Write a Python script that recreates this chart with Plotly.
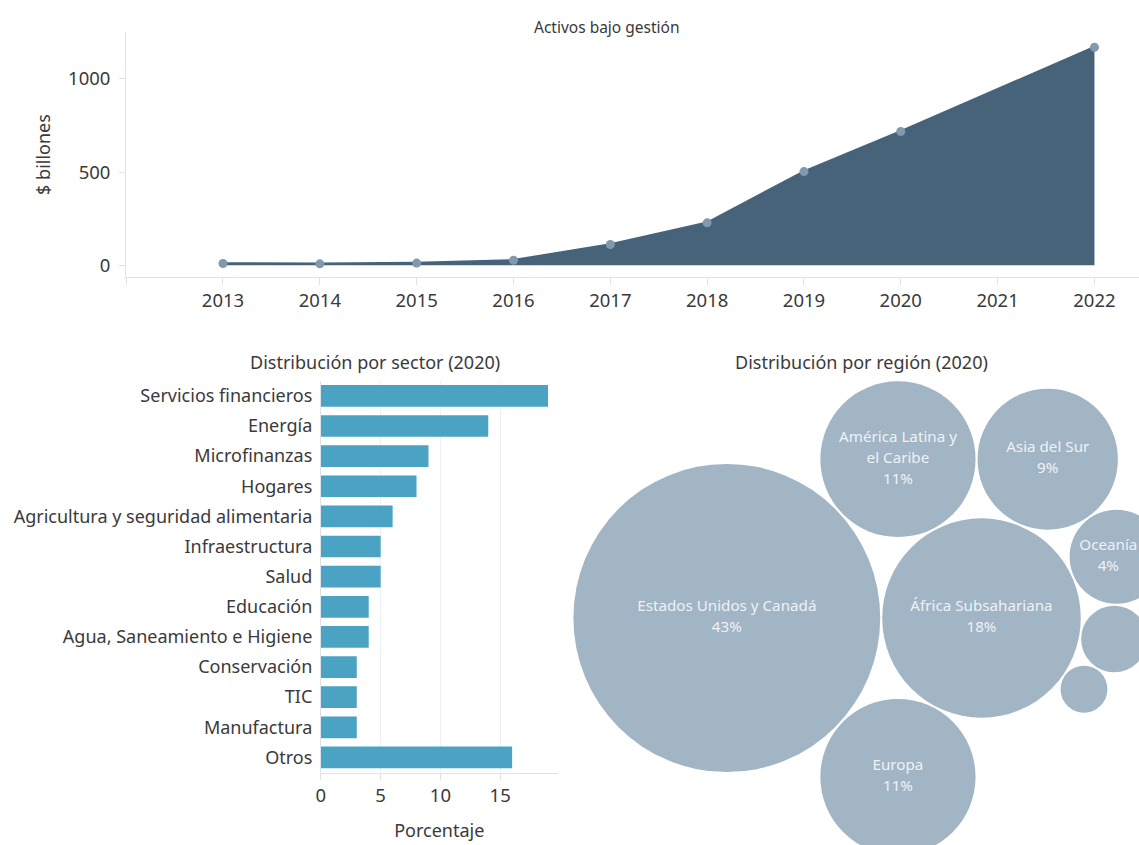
import math
import plotly.graph_objects as go

W, H = 1139, 845
FONT = "Noto Sans"
TXT = "#3a3a3a"

# ---- Activos bajo gestión ($ billones) ----
years = [2013, 2014, 2015, 2016, 2017, 2018, 2019, 2020, 2022]
aum = [10, 8, 12, 27, 112, 228, 503, 718, 1170]
year_ticks = [2013, 2014, 2015, 2016, 2017, 2018, 2019, 2020, 2021, 2022]

# ---- Distribución por sector (2020), % ----
sectors = ["Servicios financieros", "Energía", "Microfinanzas", "Hogares",
           "Agricultura y seguridad alimentaria", "Infraestructura", "Salud",
           "Educación", "Agua, Saneamiento e Higiene", "Conservación", "TIC",
           "Manufactura", "Otros"]
sector_pct = [19, 14, 9, 8, 6, 5, 5, 4, 4, 3, 3, 3, 16]

# ---- Distribución por región (2020), % ----
region_labels = ["Estados Unidos y Canadá", "África Subsahariana", "Europa",
                 "América Latina y<br>el Caribe", "Asia del Sur", "Oceanía", "", ""]
region_pct = [43, 18, 11, 11, 9, 4, 2, 1]

# Bubble arrangement: each circle touches two earlier ones (index a, index b, side).
# The first circle is the anchor, the second sits to its right.
bubble_links = [None, None, (0, 1, 1), (0, 1, -1), (3, 1, -1), (4, 1, -1), (5, 1, -1), (6, 1, -1)]

PX_PER_SQRT = 23.5   # bubble radius in px per sqrt(%)
GAP = 2.0            # white gap between touching bubbles
ANCHOR = (725, 618)  # centre of the first bubble (pixel space, y downward)


def tangent_to_pair(A, B, r, side):
    """Centre of a circle of radius r touching circles A and B."""
    ax, ay, ra = A
    bx, by, rb = B
    dx, dy = bx - ax, by - ay
    d = math.hypot(dx, dy)
    ux, uy = dx / d, dy / d
    da, db = ra + r + GAP, rb + r + GAP
    x = (da * da - db * db + d * d) / (2 * d)
    y = math.sqrt(max(0.0, da * da - x * x))
    return ax + x * ux - side * y * uy, ay + x * uy + side * y * ux


radii = [PX_PER_SQRT * math.sqrt(v) for v in region_pct]
circles = []
for i, r in enumerate(radii):
    if i == 0:
        circles.append((ANCHOR[0], ANCHOR[1], r))
    elif i == 1:
        c0 = circles[0]
        circles.append((c0[0] + c0[2] + r + GAP, c0[1], r))
    else:
        ia, ib, side = bubble_links[i]
        cx, cy = tangent_to_pair(circles[ia], circles[ib], r, side)
        circles.append((cx, cy, r))

fig = go.Figure()

# area chart
fig.add_trace(go.Scatter(
    x=years, y=aum, mode="lines+markers", fill="tozeroy",
    fillcolor="#46637a", line=dict(color="#46637a", width=2.5),
    marker=dict(color="#8199ae", size=9),
    xaxis="x", yaxis="y", hoverinfo="x+y", showlegend=False))

# horizontal bars
fig.add_trace(go.Bar(
    x=sector_pct, y=sectors, orientation="h",
    marker=dict(color="#4ba3c3", line_width=0),
    xaxis="x2", yaxis="y2", showlegend=False))

# bubbles
shapes = []
for cx, cy, r in circles:
    shapes.append(dict(type="circle", xref="x3", yref="y3",
                       x0=cx - r, x1=cx + r, y0=cy - r, y1=cy + r,
                       fillcolor="#a1b5c5", line=dict(width=0), layer="below"))

BUB_FONT = 15.2
LINE_H = 21
tx, ty, tt = [], [], []
for (cx, cy, r), lab, v in zip(circles, region_labels, region_pct):
    if not lab:
        continue
    lines = lab.split("<br>") + [f"{v}%"]
    n = len(lines)
    half_w = max(len(s) for s in lines) * BUB_FONT * 0.28
    lx = min(cx, W - half_w - 1)   # keep the label inside the page
    for i, s in enumerate(lines):
        tx.append(lx)
        ty.append(cy + (i - (n - 1) / 2) * LINE_H)
        tt.append(s)
fig.add_trace(go.Scatter(
    x=tx, y=ty, text=tt, mode="text", textposition="middle center",
    textfont=dict(family=FONT, size=BUB_FONT, color="#eef2f6"),
    xaxis="x3", yaxis="y3", hoverinfo="skip", showlegend=False, cliponaxis=False))

# panel geometry in pixels
top_x0, top_y0, top_y1 = 121.7, 32.3, 276.7
bar_x0, bar_x1, bar_y0, bar_y1 = 317.3, 555.0, 380.8, 772.5
bub_x0, bub_y0 = 560.0, 372.0

axis_line = "#dde3e9"
tick_font = dict(family=FONT, size=18.5, color=TXT)
title_font = dict(family=FONT, size=18, color=TXT)

fig.update_layout(
    width=W, height=H, margin=dict(l=0, r=0, t=0, b=0),
    paper_bgcolor="white", plot_bgcolor="rgba(0,0,0,0)",
    font=dict(family=FONT, color=TXT),
    bargap=0.28,
    xaxis=dict(domain=[top_x0 / W, 1], range=[2012, 2022.46], anchor="y",
               tickvals=[2012] + year_ticks, ticktext=[""] + [str(t) for t in year_ticks],
               showgrid=False, zeroline=False, showline=True, linecolor=axis_line,
               ticks="outside", ticklen=7, tickcolor=axis_line, tickfont=tick_font,
               ticklabelstandoff=0),
    yaxis=dict(domain=[1 - top_y1 / H, 1 - top_y0 / H], range=[-61, 1250], anchor="x",
               tickvals=[0, 500, 1000], showgrid=False, zeroline=False,
               showline=True, linecolor=axis_line, ticks="outside", ticklen=6,
               tickcolor=axis_line, tickfont=tick_font, ticklabelstandoff=5,
               title=dict(text="$ billones", font=title_font, standoff=12)),
    xaxis2=dict(domain=[bar_x0 / W, bar_x1 / W], range=[0, 19.8], anchor="y2",
                tickvals=[0, 5, 10, 15], showgrid=True, gridcolor="#eef1f4",
                zeroline=False, showline=True, linecolor=axis_line,
                ticks="outside", ticklen=6, tickcolor=axis_line, tickfont=tick_font,
                title=dict(text="Porcentaje", font=title_font, standoff=18)),
    yaxis2=dict(domain=[1 - bar_y1 / H, 1 - bar_y0 / H], anchor="x2",
                autorange="reversed", showgrid=False, zeroline=False,
                showline=True, linecolor=axis_line, ticks="", ticklabelstandoff=4,
                tickfont=dict(family=FONT, size=18, color=TXT)),
    xaxis3=dict(domain=[bub_x0 / W, 1], range=[bub_x0, W], anchor="y3",
                visible=False, fixedrange=True),
    yaxis3=dict(domain=[0, 1 - bub_y0 / H], range=[H, bub_y0], anchor="x3",
                visible=False, fixedrange=True),
    shapes=shapes,
    annotations=[
        dict(text="Activos bajo gestión", x=605 / W, y=1 - 27 / H, xref="paper", yref="paper",
             xanchor="center", yanchor="middle", showarrow=False,
             font=dict(family=FONT, size=15.5, color=TXT)),
        dict(text="Distribución por sector (2020)", x=372 / W, y=1 - 362 / H,
             xref="paper", yref="paper", xanchor="center", yanchor="middle",
             showarrow=False, font=title_font),
        dict(text="Distribución por región (2020)", x=860 / W, y=1 - 362 / H,
             xref="paper", yref="paper", xanchor="center", yanchor="middle",
             showarrow=False, font=title_font),
    ],
)

fig.write_html("out.html")
